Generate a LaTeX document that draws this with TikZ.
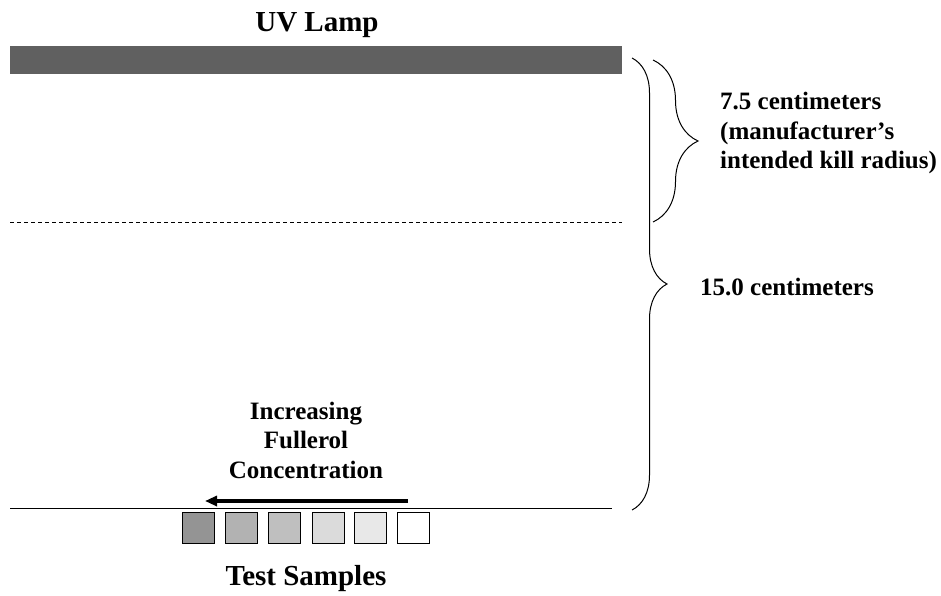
\documentclass[tikz,border=0pt]{standalone}
\usepackage{fontspec}
\setmainfont{Liberation Serif}
\usetikzlibrary{positioning,arrows.meta,decorations.pathreplacing}
\definecolor{lampgray}{RGB}{96,96,96}
\tikzset{
  lbl/.style={font=\fontsize{25}{29.5}\selectfont\bfseries,inner sep=0pt,align=center},
  head/.style={font=\fontsize{29}{34}\selectfont\bfseries,inner sep=0pt,anchor=base},
  rline/.style={line width=1pt},
  dline/.style={line width=0.8pt,dash pattern=on 4pt off 3pt},
  bracel/.style={line width=1pt,decorate,decoration={brace,amplitude=#1}},
  sample/.style={draw,line width=1pt,minimum width=32pt,minimum height=31pt,inner sep=0pt,anchor=north west},
  conc/.style={line width=3.5pt,-{Triangle[length=12pt,width=10pt]}}
}
\begin{document}
\begin{tikzpicture}[x=1pt,y=-1pt]
  \useasboundingbox (0,0) rectangle (941,596);
  % lamp and levels
  \node[head] (title) at (317,32) {UV Lamp};
  \node[fill=lampgray,minimum width=612pt,minimum height=28pt,inner sep=0pt,anchor=north west] (lamp) at (10,46) {};
  \coordinate (half1) at (10,222); \coordinate (half2) at (622,222);
  \draw[dline] (half1) -- (half2);
  \coordinate (base1) at (10,508); \coordinate (base2) at (612,508);
  \draw[rline] (base1) -- (base2);
  % braces
  \coordinate (sb1) at (653,60); \coordinate (sb2) at (653,222);
  \draw[bracel=45] (sb1) -- (sb2);
  \coordinate (bb1) at (632,58); \coordinate (bb2) at (632,510);
  \draw[bracel=35] (bb1) -- (bb2);
  \node[lbl,align=left,anchor=west] (kill) at (720,133) {7.5 centimeters\\(manufacturer's\\intended kill radius)};
  \node[lbl,anchor=base west] (full) at (700,295) {15.0 centimeters};
  % samples
  \foreach \x/\g [count=\i] in {182/42,225/30,268/25,312/14,354/9,397/0}
    \node[sample,fill=black!\g] (s\i) at (\x,512) {};
  \node[lbl] (inc) at (306,440) {Increasing\\Fullerol\\Concentration};
  \coordinate (a1) at (408,501); \coordinate (a2) at (205,501);
  \draw[conc] (a1) -- (a2);
  \node[head] (test) at (306,585) {Test Samples};
\end{tikzpicture}
\end{document}
